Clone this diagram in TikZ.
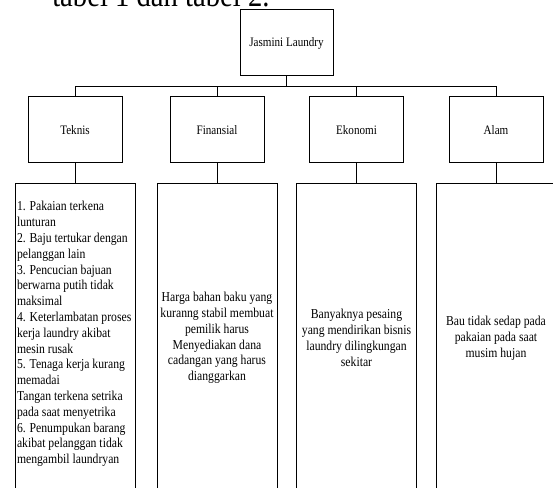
\documentclass[tikz,border=0pt]{standalone}
\usepackage{fontspec}
\setmainfont{Liberation Serif}[FakeStretch=0.86]
\usepackage{tikz}

\tikzset{
  kotak/.style={draw=black,line width=0.75pt,inner sep=1.5pt},
  akar/.style={kotak,minimum width=69.75pt,minimum height=49.5pt,font=\fontsize{9.7}{11}\selectfont},
  cabang/.style={kotak,minimum width=70.5pt,minimum height=49.5pt,font=\fontsize{9.7}{11}\selectfont},
  rinci/.style={kotak,anchor=north,minimum width=90pt,minimum height=231.75pt,align=center,font=\fontsize{10.2}{11.85}\selectfont},
  garis/.style={draw=black,line width=0.75pt}
}

\begin{document}
\begin{tikzpicture}[x=0.75pt,y=-0.75pt]
  \clip (0,0) rectangle (553,488);
  \fill[white] (0,0) rectangle (553,488);
  % potongan judul di atas
  \node[anchor=base west,inner sep=0,font=\fontsize{25}{28}\selectfont] (judul) at (52,7) {tabel 1 dan tabel 2.};
  % tingkat atas
  \node[akar] (root) at (286.5,43) {Jasmini Laundry};
  \node[cabang] (teknis) at (75,130) {Teknis};
  \node[cabang] (finansial) at (217,130) {Finansial};
  \node[cabang] (ekonomi) at (356.5,130) {Ekonomi};
  \node[cabang] (alam) at (496,130) {Alam};
  \foreach \c in {teknis,finansial,ekonomi,alam}
    \draw[garis] (root.south) -- ++(0,10) -| (\c.north);
  % kotak rincian
  \node[rinci,align=flush left,text width=87pt] (dteknis) at (75,183) {1. Pakaian terkena\\ lunturan\\ 2. Baju tertukar dengan\\ pelanggan lain\\ 3. Pencucian bajuan\\ berwarna putih tidak\\ maksimal\\ 4. Keterlambatan proses\\ kerja laundry akibat\\ mesin rusak\\ 5. Tenaga kerja kurang\\ memadai\\ Tangan terkena setrika\\ pada saat menyetrika\\ 6. Penumpukan barang\\ akibat pelanggan tidak\\ mengambil laundryan\vspace{6pt}};
  \node[rinci] (dfinansial) at (217,183) {Harga bahan baku yang\\ kuranng stabil membuat\\ pemilik harus\\ Menyediakan dana\\ cadangan yang harus\\ dianggarkan};
  \node[rinci] (dekonomi) at (356.5,183) {Banyaknya pesaing\\ yang mendirikan bisnis\\ laundry dilingkungan\\ sekitar};
  \node[rinci] (dalam) at (496,183) {Bau tidak sedap pada\\ pakaian pada saat\\ musim hujan};
  \draw[garis] (teknis) -- (dteknis);
  \draw[garis] (finansial) -- (dfinansial);
  \draw[garis] (ekonomi) -- (dekonomi);
  \draw[garis] (alam) -- (dalam);
\end{tikzpicture}
\end{document}
